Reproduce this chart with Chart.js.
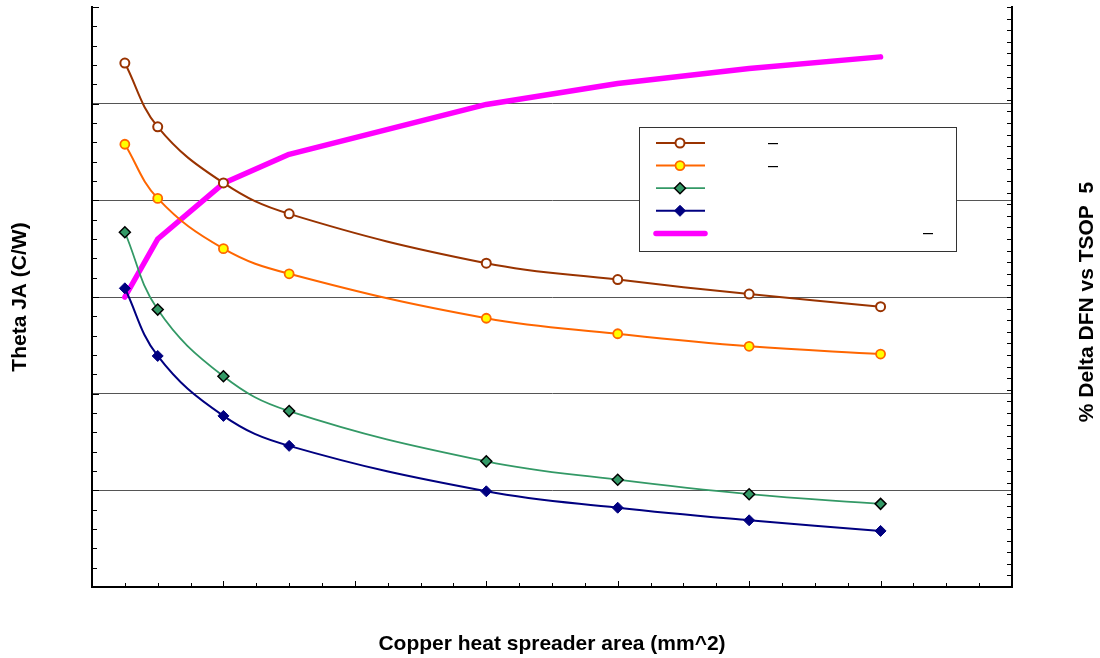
<!DOCTYPE html>
<html>
<head>
<meta charset="utf-8">
<script src="https://cdn.jsdelivr.net/npm/chart.js@4/dist/chart.umd.min.js"></script>
<style>
  body { margin: 0; background: #fff; }
  canvas { display: block; }
</style>
</head>
<body>
<canvas id="chart" width="1100" height="658"></canvas>
<script>
// Copper area on the x axis (mm^2)
const areas = [25, 50, 100, 150, 300, 400, 500, 600];

// Theta JA curves (C/W), left axis
const seriesA = [74.2, 67.6, 61.8, 58.6, 53.5, 51.8, 50.3, 49.0];
const seriesB = [65.8, 60.2, 55.0, 52.4, 47.8, 46.2, 44.9, 44.1];
const seriesC = [56.7, 48.7, 41.8, 38.2, 33.0, 31.1, 29.6, 28.6];
const seriesD = [50.9, 43.9, 37.7, 34.6, 29.9, 28.2, 26.9, 25.8];

// % delta curve, right axis
const deltaPct = [25.0, 30.0, 34.8, 37.3, 41.6, 43.4, 44.7, 45.7];

// legend text (only the dashes show in the original)
const legendNotes = ['\u2013', '\u2013', '', '', '\u2013'];

const FONT = '"Liberation Sans", Arial, sans-serif';

function toPoints(ys) {
	return areas.map((a, i) => ({ x: a, y: ys[i] }));
}

// small tick marks drawn inward, Excel style
const innerTicks = {
	id: 'innerTicks',
	afterDraw(chart) {
		const ctx = chart.ctx;
		const area = chart.chartArea;
		const sx = chart.scales.x, sy = chart.scales.y, sy1 = chart.scales.y1;
		ctx.save();
		ctx.strokeStyle = '#000';
		ctx.lineWidth = 1;
		ctx.beginPath();
		for (let v = 0; v <= 700; v += 25) {
			const px = Math.round(sx.getPixelForValue(v)) + 0.5;
			const len = v % 100 === 0 ? 6 : 4;
			ctx.moveTo(px, area.bottom);
			ctx.lineTo(px, area.bottom - len);
		}
		for (let v = 20; v <= 80; v += 2) {
			const py = Math.round(sy.getPixelForValue(v)) + 0.5;
			const len = v % 10 === 0 ? 7 : 5;
			ctx.moveTo(area.left, py);
			ctx.lineTo(area.left + len, py);
		}
		for (let v = 0; v <= 50; v += 1) {
			const py = Math.round(sy1.getPixelForValue(v)) + 0.5;
			ctx.moveTo(area.right, py);
			ctx.lineTo(area.right - 5, py);
		}
		ctx.stroke();

		// right axis title, reads bottom to top
		ctx.fillStyle = '#000';
		ctx.font = 'bold 21px ' + FONT;
		ctx.textAlign = 'center';
		ctx.textBaseline = 'middle';
		ctx.translate(1087, (area.top + area.bottom) / 2 + 5);
		ctx.rotate(-Math.PI / 2);
		ctx.fillText('% Delta DFN vs TSOP  5', 0, 0);
		ctx.restore();
	}
};

// boxed legend inside the plot
const boxLegend = {
	id: 'boxLegend',
	afterDraw(chart) {
		const ctx = chart.ctx;
		const bx = 639, by = 127, bw = 317, bh = 124;
		ctx.save();
		ctx.fillStyle = '#fff';
		ctx.fillRect(bx, by, bw, bh);
		ctx.strokeStyle = '#333';
		ctx.lineWidth = 1;
		ctx.strokeRect(bx + 0.5, by + 0.5, bw, bh);
		const noteX = [773, 773, 0, 0, 928];
		chart.data.datasets.forEach((ds, i) => {
			const y = 143 + i * 22.6;
			ctx.strokeStyle = ds.borderColor;
			ctx.lineWidth = ds.borderWidth;
			ctx.lineCap = ds.borderWidth > 3 ? 'round' : 'butt';
			ctx.beginPath();
			ctx.moveTo(656, y);
			ctx.lineTo(705, y);
			ctx.stroke();
			if (ds.pointRadius > 0) {
				ctx.fillStyle = ds.pointBackgroundColor;
				ctx.strokeStyle = ds.pointBorderColor;
				ctx.lineWidth = ds.pointBorderWidth;
				Chart.helpers.drawPoint(ctx, {
					pointStyle: ds.pointStyle,
					radius: ds.pointRadius,
					rotation: 0,
					borderWidth: ds.pointBorderWidth
				}, 680, y);
			}
			if (legendNotes[i]) {
				ctx.fillStyle = '#000';
				ctx.font = '18px ' + FONT;
				ctx.textAlign = 'center';
				ctx.textBaseline = 'middle';
				ctx.fillText(legendNotes[i], noteX[i], y);
			}
		});
		ctx.restore();
	}
};

new Chart(document.getElementById('chart'), {
	type: 'line',
	data: {
		datasets: [
			{
				label: 'Series 1', data: toPoints(seriesA), yAxisID: 'y',
				borderColor: '#993300', borderWidth: 2, tension: 0.4,
				pointStyle: 'circle', pointRadius: 4.5, pointBorderWidth: 2,
				pointBackgroundColor: '#ffffff', pointBorderColor: '#993300'
			},
			{
				label: 'Series 2', data: toPoints(seriesB), yAxisID: 'y',
				borderColor: '#FF6600', borderWidth: 2, tension: 0.4,
				pointStyle: 'circle', pointRadius: 4.5, pointBorderWidth: 1.8,
				pointBackgroundColor: '#FFFF00', pointBorderColor: '#FF6600'
			},
			{
				label: 'Series 3', data: toPoints(seriesC), yAxisID: 'y',
				borderColor: '#339966', borderWidth: 1.8, tension: 0.4,
				pointStyle: 'rectRot', pointRadius: 5.5, pointBorderWidth: 1.5,
				pointBackgroundColor: '#339966', pointBorderColor: '#000000'
			},
			{
				label: 'Series 4', data: toPoints(seriesD), yAxisID: 'y',
				borderColor: '#000080', borderWidth: 2, tension: 0.4,
				pointStyle: 'rectRot', pointRadius: 5.5, pointBorderWidth: 1,
				pointBackgroundColor: '#000080', pointBorderColor: '#000080'
			},
			{
				label: '% Delta', data: toPoints(deltaPct), yAxisID: 'y1', order: 1,
				borderColor: '#FF00FF', borderWidth: 5.5, tension: 0,
				borderCapStyle: 'round', borderJoinStyle: 'round',
				pointRadius: 0, pointHoverRadius: 0
			}
		]
	},
	options: {
		responsive: false,
		animation: false,
		devicePixelRatio: 1,
		layout: { padding: { top: 7, left: 0, right: 0, bottom: 0 } },
		plugins: {
			legend: { display: false },
			tooltip: { enabled: false }
		},
		scales: {
			x: {
				type: 'linear', min: 0, max: 700,
				ticks: { display: false, stepSize: 100 },
				grid: { display: false, drawTicks: false },
				border: { display: true, color: '#000', width: 2 },
				title: {
					display: true, text: 'Copper heat spreader area (mm^2)',
					color: '#000', font: { family: FONT, size: 21, weight: 'bold' },
					padding: { top: 0, bottom: 1 }
				},
				afterFit(scale) { scale.height = 71; }
			},
			y: {
				position: 'left', min: 20, max: 80,
				ticks: { display: false, stepSize: 10 },
				grid: {
					drawTicks: false, lineWidth: 1,
					color: (c) => (c.tick && c.tick.value === 80) ? 'rgba(0,0,0,0)' : '#555555'
				},
				border: { display: true, color: '#000', width: 2 },
				title: {
					display: true, text: 'Theta JA (C/W)',
					color: '#000', font: { family: FONT, size: 21, weight: 'bold' },
					padding: { top: 8, bottom: 0 }
				},
				afterFit(scale) { scale.width = 92; }
			},
			y1: {
				position: 'right', min: 0, max: 50,
				ticks: { display: false, stepSize: 10 },
				grid: { display: false, drawTicks: false },
				border: { display: true, color: '#000', width: 2 },
				afterFit(scale) { scale.width = 88; }
			}
		}
	},
	plugins: [innerTicks, boxLegend]
});
</script>
</body>
</html>
